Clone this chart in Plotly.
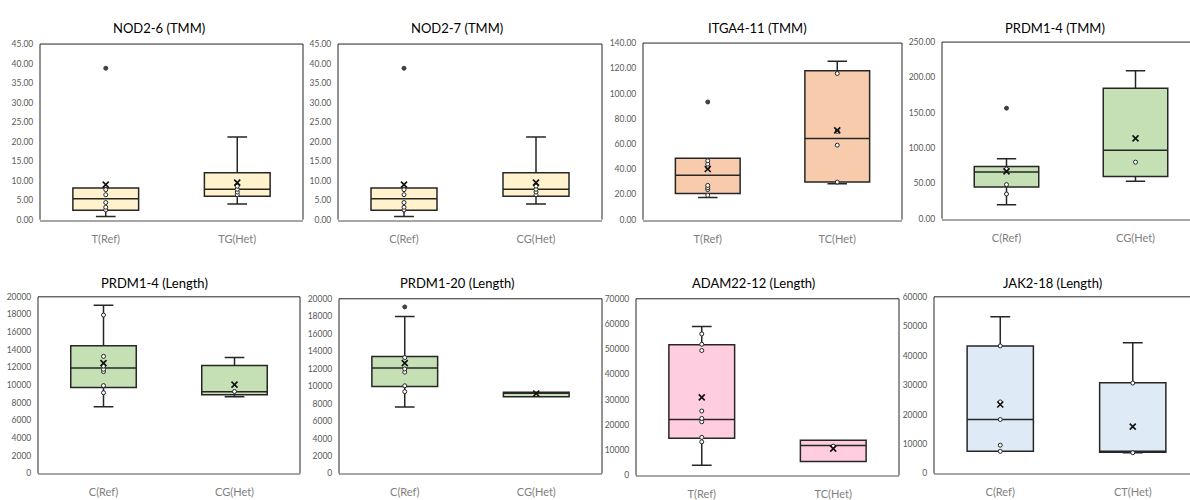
import plotly.graph_objects as go

# ---- data -------------------------------------------------------------
TITLES = [
    "NOD2-6 (TMM)", "NOD2-7 (TMM)", "ITGA4-11 (TMM)", "PRDM1-4 (TMM)",
    "PRDM1-4 (Length)", "PRDM1-20 (Length)", "ADAM22-12 (Length)", "JAK2-18 (Length)",
]
CATEGORIES = [
    ["T(Ref)", "TG(Het)"], ["C(Ref)", "CG(Het)"], ["T(Ref)", "TC(Het)"], ["C(Ref)", "CG(Het)"],
    ["C(Ref)", "CG(Het)"], ["C(Ref)", "CG(Het)"], ["T(Ref)", "TC(Het)"], ["C(Ref)", "CT(Het)"],
]
LOWER = [
    [0.8, 4.0], [0.8, 4.0], [17.6, 28.5], [19.8, 52.9],
    [7550, 8700], [7620, 8780], [4020, 5570], [7520, 7060],
]
Q1 = [
    [2.4, 6.0], [2.4, 6.0], [20.7, 29.8], [45.0, 59.8],
    [9720, 8920], [9960, 8780], [14700, 5570], [7520, 7190],
]
MEDIAN = [
    [5.4, 7.8], [5.4, 7.8], [35.3, 64.3], [66.3, 97.1],
    [11950, 9250], [12080, 9280], [22200, 11870], [18330, 7400],
]
Q3 = [
    [8.1, 12.0], [8.1, 12.0], [48.8, 118.0], [74.0, 184.5],
    [14450, 12230], [13390, 9300], [51820, 13920], [43330, 30830],
]
UPPER = [
    [8.1, 21.2], [8.1, 21.2], [48.8, 125.5], [85.0, 209.4],
    [19050, 13120], [17960, 9300], [59060, 13920], [53270, 44420],
]
MEAN = [
    [9.0, 9.5], [9.0, 9.5], [40.2, 70.8], [67.1, 113.7],
    [12490, 10060], [12640, 9150], [30940, 10600], [23440, 15910],
]
POINTS = [
    [[2.5, 3.2, 4.4, 6.4, 7.7], [6.4, 7.1, 7.8, 8.6]],
    [[2.5, 3.2, 4.4, 6.4, 7.7], [6.4, 7.1, 7.8, 8.6]],
    [[19.4, 23.9, 25.4, 27.2, 41.5, 44.1, 46.7], [29.8, 59.1, 70.0, 115.9]],
    [[35.0, 48.3, 70.4], [80.1]],
    [[9140, 9950, 11530, 11790, 12160, 13260, 17930], [9280]],
    [[9370, 10040, 11600, 11970, 13270], []],
    [[13300, 15080, 21270, 22590, 25530, 49500, 51980, 56080], [11600]],
    [[7520, 9610, 18330, 24300, 43330], [7060, 30720]],
]
OUTLIERS = [
    [[38.8], []], [[38.8], []], [[93.3], []], [[156.5], []],
    [[], []], [[19070], []], [[], []], [[], []],
]
FILLS = ["#FFF2CC", "#FFF2CC", "#F8CBAD", "#C5E0B4",
         "#C5E0B4", "#C5E0B4", "#FFCCE0", "#DEEBF7"]
Y_MAX = [45, 45, 140, 250, 20000, 20000, 70000, 60000]
Y_STEP = [5, 5, 20, 50, 2000, 2000, 10000, 10000]
Y_FORMAT = [".2f", ".2f", ".2f", ".2f", "d", "d", "d", "d"]

# ---- layout geometry (pixels) -------------------------------------------
W, H = 1190, 500
# plot areas: left, right, top, bottom
FRAMES = [
    (40, 303, 40, 220), (338, 602, 40, 220), (643, 902, 39, 220), (942, 1200, 38, 219),
    (38, 300, 299, 480), (339, 602, 301, 480), (636, 899, 301, 482), (934, 1199, 299, 480),
]
TITLE_POS = [
    (159, 24), (457, 24), (757, 24), (1055, 24),
    (154, 285), (457, 285), (753, 285), (1052, 285),
]

FONT = "Lato, 'Open Sans', sans-serif"
EDGE = "#262626"

fig = go.Figure()
layout = {}
shapes = []
annotations = []


def px(x):
    return x / W


def py(y):
    return 1 - y / H


for i in range(8):
    n = i + 1
    xa = "x" if n == 1 else f"x{n}"
    ya = "y" if n == 1 else f"y{n}"
    left, right, top, bottom = FRAMES[i]
    full_w = right - left
    vis_right = min(right, W)
    x_end = -0.5 + 2.0 * (vis_right - left) / full_w

    for j in range(2):
        fig.add_trace(go.Box(
            x=[j], q1=[Q1[i][j]], median=[MEDIAN[i][j]], q3=[Q3[i][j]],
            lowerfence=[LOWER[i][j]], upperfence=[UPPER[i][j]],
            orientation="v", width=0.5, whiskerwidth=0.3,
            fillcolor=FILLS[i], line=dict(color=EDGE, width=1.5),
            boxpoints=False, xaxis=xa, yaxis=ya,
            showlegend=False, hoverinfo="skip",
        ))
    for j in range(2):
        pts = POINTS[i][j]
        if pts:
            fig.add_trace(go.Scatter(
                x=[j] * len(pts), y=pts, mode="markers", xaxis=xa, yaxis=ya,
                marker=dict(symbol="circle", size=4, color="white",
                            line=dict(color=EDGE, width=1)),
                showlegend=False, hoverinfo="skip",
            ))
        outs = OUTLIERS[i][j]
        if outs:
            fig.add_trace(go.Scatter(
                x=[j] * len(outs), y=outs, mode="markers", xaxis=xa, yaxis=ya,
                marker=dict(symbol="circle", size=4, color="#404040",
                            line=dict(color="#404040", width=1)),
                showlegend=False, hoverinfo="skip",
            ))
        fig.add_trace(go.Scatter(
            x=[j], y=[MEAN[i][j]], mode="markers", xaxis=xa, yaxis=ya,
            marker=dict(symbol="x-thin", size=6, color="#111111",
                        line=dict(color="#111111", width=1.6)),
            showlegend=False, hoverinfo="skip",
        ))

    layout[f"xaxis{n}"] = dict(
        domain=[px(left), px(vis_right)], range=[-0.5, x_end], anchor=ya,
        tickvals=[0, 1], ticktext=CATEGORIES[i],
        showgrid=False, zeroline=False,
        showline=True, linecolor="#A6A6A6", linewidth=1.5,
        ticks="outside", ticklen=8, tickcolor="rgba(0,0,0,0)",
        tickfont=dict(family=FONT, size=11, color="#808080"),
        fixedrange=True,
    )
    layout[f"yaxis{n}"] = dict(
        domain=[py(bottom), py(top)], range=[0, Y_MAX[i]], anchor=xa,
        tick0=0, dtick=Y_STEP[i], tickformat=Y_FORMAT[i],
        showgrid=False, zeroline=False, showline=False,
        ticks="outside", ticklen=4, tickcolor="rgba(0,0,0,0)",
        tickfont=dict(family=FONT, size=8.5, color="#595959"),
        fixedrange=True,
    )

    line = dict(color=EDGE, width=1)
    shapes.append(dict(type="line", xref="paper", yref="paper",
                       x0=px(left), x1=px(vis_right), y0=py(top), y1=py(top), line=line))
    shapes.append(dict(type="line", xref="paper", yref="paper",
                       x0=px(left), x1=px(left), y0=py(top), y1=py(bottom), line=line))
    if right <= W:
        shapes.append(dict(type="line", xref="paper", yref="paper",
                           x0=px(right), x1=px(right), y0=py(top), y1=py(bottom), line=line))

    tx, ty = TITLE_POS[i]
    annotations.append(dict(
        text=TITLES[i], xref="paper", yref="paper", x=px(tx), y=py(ty),
        xanchor="center", yanchor="middle", showarrow=False,
        font=dict(family=FONT, size=13, color="#000000"),
    ))

fig.update_layout(
    width=W, height=H, margin=dict(l=0, r=0, t=0, b=0),
    paper_bgcolor="white", plot_bgcolor="white",
    shapes=shapes, annotations=annotations, **layout,
)

fig.write_html("out.html", config={"displayModeBar": False})
